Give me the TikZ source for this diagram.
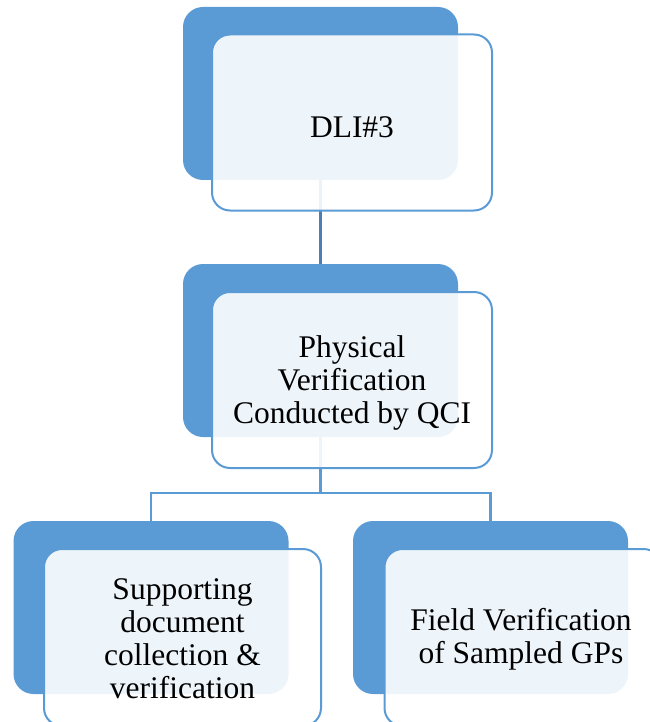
\documentclass[tikz,border=0pt]{standalone}
\usepackage{fontspec}
\setmainfont{Liberation Serif}
\definecolor{accblue}{HTML}{5B9BD5}
\definecolor{conndark}{HTML}{4A7EB4}
\begin{document}
\begin{tikzpicture}[x=1pt,y=-1pt,
  backbox/.style={draw=none,fill=accblue,rounded corners=20pt,minimum width=275pt,minimum height=173pt,inner sep=0pt},
  frontbox/.style={draw=accblue,line width=2pt,fill=white,fill opacity=0.9,rounded corners=18pt,minimum width=280pt,minimum height=176pt,inner sep=0pt},
  label/.style={align=center,inner sep=0pt,font=\fontsize{31.5}{33}\selectfont},
  conn/.style={line width=2.5pt},
]
\useasboundingbox (0,0) rectangle (649,722);
% junction
\coordinate (j) at (320.5,493);
% connectors (behind boxes)
\draw[conn,draw=conndark] (320.5,93.5) -- (320.5,350.5);
\draw[conn,draw=accblue] (320.5,350.5) -- (j);
\draw[conn,draw=accblue] (151,607.5) |- (j) -| (490.5,607.5);
% back boxes
\node[backbox] (b1) at (320.5,93.5) {};
\node[backbox] (b2) at (320.5,350.5) {};
\node[backbox] (b3) at (151,607.5) {};
\node[backbox] (b4) at (490.5,607.5) {};
% front boxes
\node[frontbox] (f1) at (352,122.5) {};
\node[frontbox] (f2) at (352,380) {};
\node[frontbox,minimum width=277pt,minimum height=177pt] (f3) at (182.5,637.5) {};
\node[frontbox,minimum width=277pt,minimum height=177pt] (f4) at (523,637.5) {};
% texts
\node[label] (t1) at ([yshift=-5pt]f1.center) {DLI\#3};
\node[label] (t2) at ([yshift=-3pt]f2.center) {Physical\\Verification\\Conducted by QCI};
\node[label] (t3) at ([yshift=-1pt]f3.center) {Supporting\\document\\collection \&\\verification};
\node[label] (t4) at ([yshift=-2pt,xshift=-2pt]f4.center) {Field Verification\\of Sampled GPs};
\end{tikzpicture}
\end{document}
